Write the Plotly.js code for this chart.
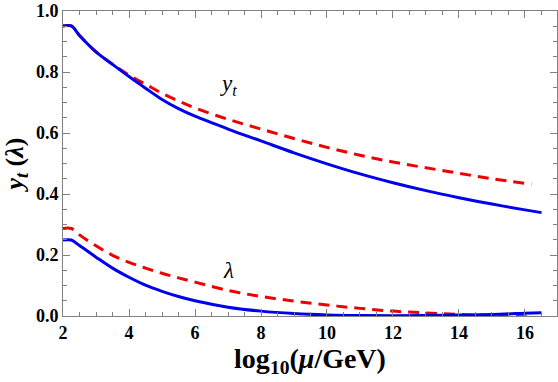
<!DOCTYPE html>
<html>
<head>
<meta charset="utf-8">
<script src="https://cdn.plot.ly/plotly-3.0.1.min.js"></script>
<style>
  html, body { margin: 0; padding: 0; background: #fff; }
  #plot { width: 558px; height: 382px; }
</style>
</head>
<body>
<div id="plot"></div>
<script>
// log10(mu/GeV) grid, values
const xYt = [2, 2.25, 2.5, 3, 3.5, 4, 4.5, 5, 5.5, 6, 7, 8, 9, 10, 11, 12, 13, 14, 15, 16, 16.5];
const ytBlue = [0.951, 0.951, 0.92, 0.866, 0.825, 0.785, 0.747, 0.71, 0.68, 0.655, 0.613, 0.574, 0.535, 0.499, 0.466, 0.437, 0.411, 0.388, 0.367, 0.348, 0.339];

const xYtRed = [2, 2.25, 2.5, 3, 3.5, 4, 4.5, 5, 5.5, 6, 7, 8, 9, 10, 11, 12, 13, 14, 15, 16.2];
const ytRed = [0.951, 0.951, 0.92, 0.866, 0.826, 0.79, 0.76, 0.73, 0.705, 0.682, 0.645, 0.613, 0.582, 0.553, 0.527, 0.505, 0.486, 0.468, 0.45, 0.432];

const xLam = [2, 2.25, 2.5, 3, 3.5, 4, 4.5, 5, 5.5, 6, 7, 8, 9, 10, 11, 12, 13, 14, 15, 16, 16.5];
const lamBlue = [0.249, 0.249, 0.231, 0.193, 0.157, 0.127, 0.101, 0.081, 0.064, 0.05, 0.029, 0.016, 0.008, 0.0035, 0.0015, 0.001, 0.0015, 0.003, 0.005, 0.009, 0.011];

const xLamRed = [2, 2.25, 2.5, 3, 3.5, 4, 4.5, 5, 5.5, 6, 7, 8, 9, 10, 11, 12, 13, 14, 15, 16.2];
const lamRed = [0.287, 0.287, 0.266, 0.23, 0.199, 0.176, 0.157, 0.14, 0.125, 0.111, 0.084, 0.064, 0.049, 0.036, 0.025, 0.016, 0.01, 0.005, 0.001, -0.003];

const xTicks = [2, 4, 6, 8, 10, 12, 14, 16];
const yTicks = [0.0, 0.2, 0.4, 0.6, 0.8, 1.0];
const yTickText = ['0.0', '0.2', '0.4', '0.6', '0.8', '1.0'];

const BLUE = '#0000ee';
const RED = '#ee0000';
const serif = 'Liberation Serif';

const line = (color, dash) => ({ color: color, width: 3, dash: dash, shape: 'spline', smoothing: 1 });

const traces = [
    { x: xYtRed, y: ytRed, mode: 'lines', line: line(RED, '11px,7px'), showlegend: false },
    { x: xYt, y: ytBlue, mode: 'lines', line: line(BLUE, 'solid'), showlegend: false },
    { x: xLamRed, y: lamRed, mode: 'lines', line: line(RED, '11px,7px'), showlegend: false },
    { x: xLam, y: lamBlue, mode: 'lines', line: line(BLUE, 'solid'), showlegend: false }
];

const axisCommon = {
    showgrid: false,
    zeroline: false,
    showline: true,
    linecolor: '#808080',
    linewidth: 1,
    mirror: 'ticks',
    ticks: 'inside',
    ticklen: 7,
    tickcolor: '#808080'
};

const layout = {
    width: 558,
    height: 382,
    margin: { l: 63, r: 1, t: 11, b: 66 },
    paper_bgcolor: '#fff',
    plot_bgcolor: '#fff',
    font: { family: serif, size: 18, color: '#000' },
    xaxis: Object.assign({}, axisCommon, {
        range: [2, 16.97],
        tickvals: xTicks,
        ticktext: xTicks.map(v => '<b>' + v + '</b>'),
        tickfont: { family: serif, size: 18, color: '#000' },
        minor: { ticks: 'inside', ticklen: 4, tickcolor: '#808080', dtick: 0.5, tick0: 2 },
        title: { text: '<b>log<sub>10</sub>(<i>μ</i>/GeV)</b>', font: { family: serif, size: 28, color: '#000' }, standoff: 6 }
    }),
    yaxis: Object.assign({}, axisCommon, {
        range: [0, 1.0],
        tickvals: yTicks,
        ticktext: yTickText.map(t => '<b>' + t + '</b>'),
        tickfont: { family: serif, size: 18, color: '#000' },
        minor: { ticks: 'inside', ticklen: 4, tickcolor: '#808080', dtick: 0.05, tick0: 0 },
        title: { text: '<b><i>y</i><sub><i>t</i></sub> (<i>λ</i>)</b>', font: { family: serif, size: 26, color: '#000' }, standoff: 8 }
    }),
    annotations: [
        { x: 7.0, y: 0.757, text: '<i>y</i><sub><i>t</i></sub>', showarrow: false, font: { family: serif, size: 23, color: '#000' } },
        { x: 7.0, y: 0.15, text: '<i>λ</i>', showarrow: false, font: { family: serif, size: 23, color: '#000' } }
    ]
};

Plotly.newPlot('plot', traces, layout, { displayModeBar: false, staticPlot: true });
</script>
</body>
</html>
